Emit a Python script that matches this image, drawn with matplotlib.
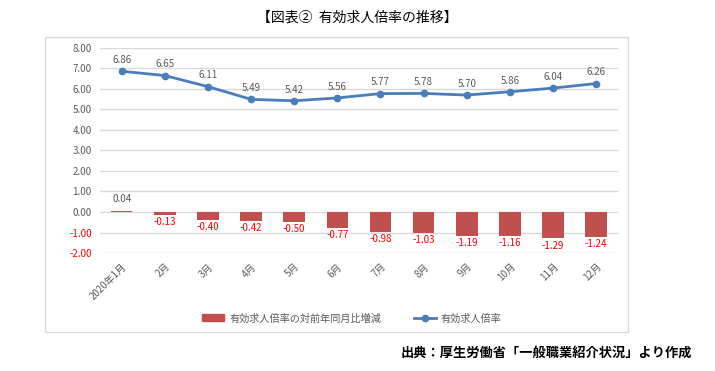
import matplotlib.pyplot as plt
from matplotlib.patches import Rectangle
from matplotlib.lines import Line2D
import numpy as np

plt.rcParams['font.family'] = ['Noto Sans CJK JP', 'DejaVu Sans']

months = ["2020年1月", "2月", "3月", "4月", "5月", "6月", "7月", "8月", "9月", "10月", "11月", "12月"]
ratio = [6.86, 6.65, 6.11, 5.49, 5.42, 5.56, 5.77, 5.78, 5.70, 5.86, 6.04, 6.26]
yoy = [0.04, -0.13, -0.40, -0.42, -0.50, -0.77, -0.98, -1.03, -1.19, -1.16, -1.29, -1.24]
yticks = [8, 7, 6, 5, 4, 3, 2, 1, 0, -1, -2]

bar_color = "#C0504D"
line_color = "#4A7EBB"
gray = "#595959"

fig = plt.figure(figsize=(7.15, 3.71), dpi=100)
fig.patches.append(Rectangle((0.063, 0.105), 0.815, 0.795, transform=fig.transFigure,
                             fill=False, edgecolor="#D9D9D9", linewidth=1))
ax = fig.add_axes([0.140, 0.318, 0.724, 0.553])

x = np.arange(len(months))
ax.bar(x, yoy, width=0.5, color=bar_color, zorder=2)
ax.plot(x, ratio, color=line_color, linewidth=2, marker="o", markersize=4.5, zorder=3)

for i, v in enumerate(ratio):
    ax.text(i, v + 0.3, f"{v:.2f}", ha="center", va="bottom", fontsize=7, color=gray)
for i, v in enumerate(yoy):
    if v >= 0:
        ax.text(i, v + 0.35, f"{v:.2f}", ha="center", va="bottom", fontsize=7, color=gray)
    else:
        ax.text(i, v - 0.1, f"{v:.2f}", ha="center", va="top", fontsize=7, color="#FF0000")

ax.set_xlim(-0.5, len(months) - 0.5)
ax.set_ylim(-2, 8)
ax.set_yticks(yticks)
ax.set_yticklabels([f"{t:.2f}" for t in yticks], fontsize=7)
for lab, t in zip(ax.get_yticklabels(), yticks):
    lab.set_color("#FF0000" if t < 0 else gray)
ax.set_xticks(x)
ax.set_xticklabels(months, rotation=45, ha="right", rotation_mode="anchor", fontsize=7, color=gray)
ax.tick_params(length=0, pad=6)
ax.grid(axis="y", color="#D9D9D9", linewidth=1, zorder=0)
for s in ax.spines.values():
    s.set_visible(False)

handles = [Rectangle((0, 0), 1, 1, color=bar_color),
           Line2D([0], [0], color=line_color, linewidth=2, marker="o", markersize=4.5)]
fig.legend(handles, ["有効求人倍率の対前年同月比増減", "有効求人倍率"], loc="center",
           bbox_to_anchor=(0.492, 0.142), ncol=2, frameon=False, fontsize=7.3,
           labelcolor=gray, columnspacing=3.2, handlelength=2.2, handletextpad=0.5)

fig.text(0.5, 0.952, "【図表②  有効求人倍率の推移】", ha="center", va="center", fontsize=10)
fig.text(0.968, 0.048, "出典：厚生労働省「一般職業紹介状況」より作成", ha="right", va="center", fontsize=9.5, weight="bold")

fig.savefig("out.png", dpi=100)
